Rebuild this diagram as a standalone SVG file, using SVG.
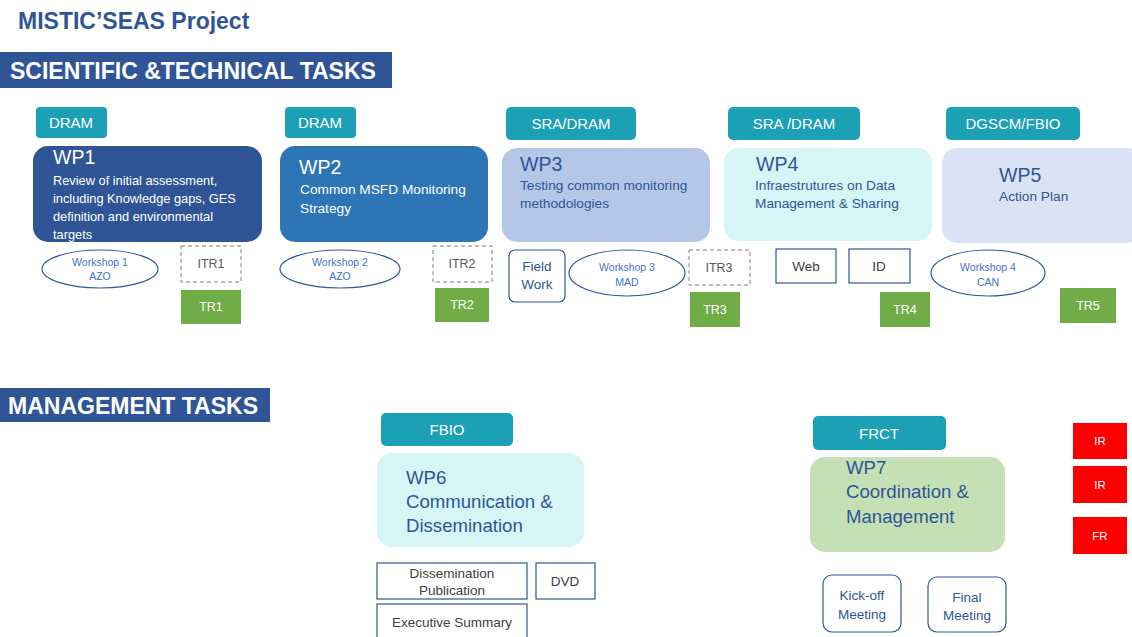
<svg xmlns="http://www.w3.org/2000/svg" width="1132" height="637" viewBox="0 0 1132 637">
  <defs>
    <style>
      text { font-family: "Liberation Sans", Arial, sans-serif; }
      .title { font-size: 23px; font-weight: bold; fill: #2f5597; }
      .banner { fill: #2f5597; }
      .banner-t { font-size: 23px; font-weight: bold; fill: #ffffff; }
      .lead { fill: #1ba0b5; }
      .lead-t { font-size: 15px; fill: #ffffff; text-anchor: middle; }
      .wp-h { font-size: 19.5px; }
      .wp-b { font-size: 13.7px; }
      .wp-b1 { font-size: 12.8px; }
      .wp-m { font-size: 18.6px; }
      .light { fill: #ffffff; }
      .dark { fill: #2f5597; }
      .ws { fill: #ffffff; stroke: #2f5597; stroke-width: 1.2; }
      .ws-t { font-size: 10.5px; fill: #4472c4; text-anchor: middle; }
      .itr { fill: #ffffff; stroke: #7f7f7f; stroke-width: 1; stroke-dasharray: 4 3; }
      .itr-t { font-size: 12.5px; fill: #595959; text-anchor: middle; }
      .tr { fill: #70ad47; }
      .tr-t { font-size: 12.5px; fill: #ffffff; text-anchor: middle; }
      .out { fill: #ffffff; stroke: #2f5597; stroke-width: 1.2; }
      .out-t { font-size: 13.5px; fill: #404040; text-anchor: middle; }
      .out-b { font-size: 13.5px; fill: #2f5597; text-anchor: middle; }
      .rep { fill: #ff0000; }
      .rep-t { font-size: 11.5px; fill: #ffffff; text-anchor: middle; }
    </style>
  </defs>

  <!-- headings -->
  <text class="title" x="18" y="29">MISTIC’SEAS Project</text>
  <rect class="banner" x="0" y="52" width="392" height="36"/>
  <text class="banner-t" x="10" y="79">SCIENTIFIC &amp;TECHNICAL TASKS</text>
  <rect class="banner" x="0" y="388" width="270" height="34"/>
  <text class="banner-t" x="8" y="414">MANAGEMENT TASKS</text>

  <!-- connectors (none drawn) -->
  <g id="connectors"/>

  <!-- WP1 -->
  <g id="wp1">
    <rect class="lead" x="36" y="107" width="71" height="31" rx="4"/>
    <text class="lead-t" x="71" y="128">DRAM</text>
    <rect x="33" y="146" width="229" height="96" rx="15" fill="#2f5597"/>
    <text class="wp-h light" x="53" y="164">WP1</text>
    <text class="wp-b1 light" x="53" y="185">Review of initial assessment,</text>
    <text class="wp-b1 light" x="53" y="203">including Knowledge gaps, GES</text>
    <text class="wp-b1 light" x="53" y="221">definition and environmental</text>
    <text class="wp-b1 light" x="53" y="239">targets</text>
    <ellipse class="ws" cx="100" cy="269" rx="58" ry="19"/>
    <text class="ws-t" x="100" y="266">Workshop 1</text>
    <text class="ws-t" x="100" y="280">AZO</text>
    <rect class="itr" x="181" y="246" width="60" height="36"/>
    <text class="itr-t" x="211" y="268">ITR1</text>
    <rect class="tr" x="181" y="290" width="60" height="34"/>
    <text class="tr-t" x="211" y="311">TR1</text>
  </g>

  <!-- WP2 -->
  <g id="wp2">
    <rect class="lead" x="285" y="107" width="71" height="31" rx="4"/>
    <text class="lead-t" x="320" y="128">DRAM</text>
    <rect x="280" y="146" width="208" height="96" rx="15" fill="#2e75b6"/>
    <text class="wp-h light" x="299" y="174">WP2</text>
    <text class="wp-b light" x="300" y="194">Common MSFD Monitoring</text>
    <text class="wp-b light" x="300" y="213">Strategy</text>
    <ellipse class="ws" cx="340" cy="269" rx="60" ry="19"/>
    <text class="ws-t" x="340" y="266">Workshop 2</text>
    <text class="ws-t" x="340" y="280">AZO</text>
    <rect class="itr" x="433" y="246" width="59" height="36"/>
    <text class="itr-t" x="462" y="268">ITR2</text>
    <rect class="tr" x="435" y="288" width="54" height="34"/>
    <text class="tr-t" x="462" y="309">TR2</text>
  </g>

  <!-- WP3 -->
  <g id="wp3">
    <rect class="lead" x="506" y="107" width="130" height="33" rx="5"/>
    <text class="lead-t" x="571" y="129">SRA/DRAM</text>
    <rect x="502" y="148" width="208" height="94" rx="15" fill="#b4c7e7"/>
    <text class="wp-h dark" x="520" y="171">WP3</text>
    <text class="wp-b dark" x="520" y="190">Testing common monitoring</text>
    <text class="wp-b dark" x="520" y="208">methodologies</text>
    <rect class="out" x="509" y="250" width="56" height="52" rx="6"/>
    <text class="out-b" x="537" y="271">Field</text>
    <text class="out-b" x="537" y="289">Work</text>
    <ellipse class="ws" cx="627" cy="273" rx="58" ry="23"/>
    <text class="ws-t" x="627" y="271">Workshop 3</text>
    <text class="ws-t" x="627" y="286">MAD</text>
    <rect class="itr" x="689" y="250" width="61" height="35"/>
    <text class="itr-t" x="719" y="272">ITR3</text>
    <rect class="tr" x="690" y="292" width="50" height="35"/>
    <text class="tr-t" x="715" y="314">TR3</text>
  </g>

  <!-- WP4 -->
  <g id="wp4">
    <rect class="lead" x="728" y="107" width="132" height="33" rx="5"/>
    <text class="lead-t" x="794" y="129">SRA /DRAM</text>
    <rect x="724" y="148" width="208" height="93" rx="15" fill="#d5f6f5"/>
    <text class="wp-h dark" x="756" y="171">WP4</text>
    <text class="wp-b dark" x="755" y="190">Infraestrutures on Data</text>
    <text class="wp-b dark" x="755" y="208">Management &amp; Sharing</text>
    <rect class="out" x="776" y="249" width="60" height="34"/>
    <text class="out-t" x="806" y="271">Web</text>
    <rect class="out" x="849" y="249" width="61" height="34"/>
    <text class="out-t" x="879" y="271">ID</text>
    <rect class="tr" x="880" y="292" width="50" height="35"/>
    <text class="tr-t" x="905" y="314">TR4</text>
  </g>

  <!-- WP5 -->
  <g id="wp5">
    <rect class="lead" x="946" y="107" width="134" height="33" rx="5"/>
    <text class="lead-t" x="1013" y="129">DGSCM/FBIO</text>
    <rect x="942" y="148" width="200" height="95" rx="15" fill="#dae3f3"/>
    <text class="wp-h dark" x="999" y="182">WP5</text>
    <text class="wp-b dark" x="999" y="201">Action Plan</text>
    <ellipse class="ws" cx="988" cy="273" rx="57" ry="23"/>
    <text class="ws-t" x="988" y="271">Workshop 4</text>
    <text class="ws-t" x="988" y="286">CAN</text>
    <rect class="tr" x="1060" y="288" width="56" height="35"/>
    <text class="tr-t" x="1088" y="310">TR5</text>
  </g>

  <!-- WP6 -->
  <g id="wp6">
    <rect class="lead" x="381" y="413" width="132" height="33" rx="5"/>
    <text class="lead-t" x="447" y="435">FBIO</text>
    <rect x="377" y="453" width="207" height="94" rx="15" fill="#d5f6f5"/>
    <text class="wp-m dark" x="406" y="484">WP6</text>
    <text class="wp-m dark" x="406" y="508">Communication &amp;</text>
    <text class="wp-m dark" x="406" y="532">Dissemination</text>
    <rect class="out" x="377" y="563" width="150" height="36"/>
    <text class="out-t" x="452" y="578">Dissemination</text>
    <text class="out-t" x="452" y="595">Publication</text>
    <rect class="out" x="536" y="563" width="59" height="36"/>
    <text class="out-t" x="565" y="586">DVD</text>
    <rect class="out" x="377" y="604" width="150" height="40"/>
    <text class="out-t" x="452" y="627">Executive Summary</text>
  </g>

  <!-- WP7 -->
  <g id="wp7">
    <rect class="lead" x="813" y="416" width="133" height="34" rx="5"/>
    <text class="lead-t" x="879" y="439">FRCT</text>
    <rect x="810" y="457" width="195" height="95" rx="15" fill="#c5e0b4"/>
    <text class="wp-m dark" x="846" y="474">WP7</text>
    <text class="wp-m dark" x="846" y="498">Coordination &amp;</text>
    <text class="wp-m dark" x="846" y="523">Management</text>
    <rect class="out" x="823" y="575" width="78" height="57" rx="9"/>
    <text class="out-b" x="862" y="600">Kick-off</text>
    <text class="out-b" x="862" y="619">Meeting</text>
    <rect class="out" x="928" y="577" width="78" height="55" rx="9"/>
    <text class="out-b" x="967" y="602">Final</text>
    <text class="out-b" x="967" y="620">Meeting</text>
  </g>

  <!-- reports -->
  <g id="reports">
    <rect class="rep" x="1073" y="423" width="54" height="36"/>
    <text class="rep-t" x="1100" y="445">IR</text>
    <rect class="rep" x="1073" y="466" width="54" height="37"/>
    <text class="rep-t" x="1100" y="489">IR</text>
    <rect class="rep" x="1073" y="517" width="54" height="37"/>
    <text class="rep-t" x="1100" y="540">FR</text>
  </g>
</svg>
